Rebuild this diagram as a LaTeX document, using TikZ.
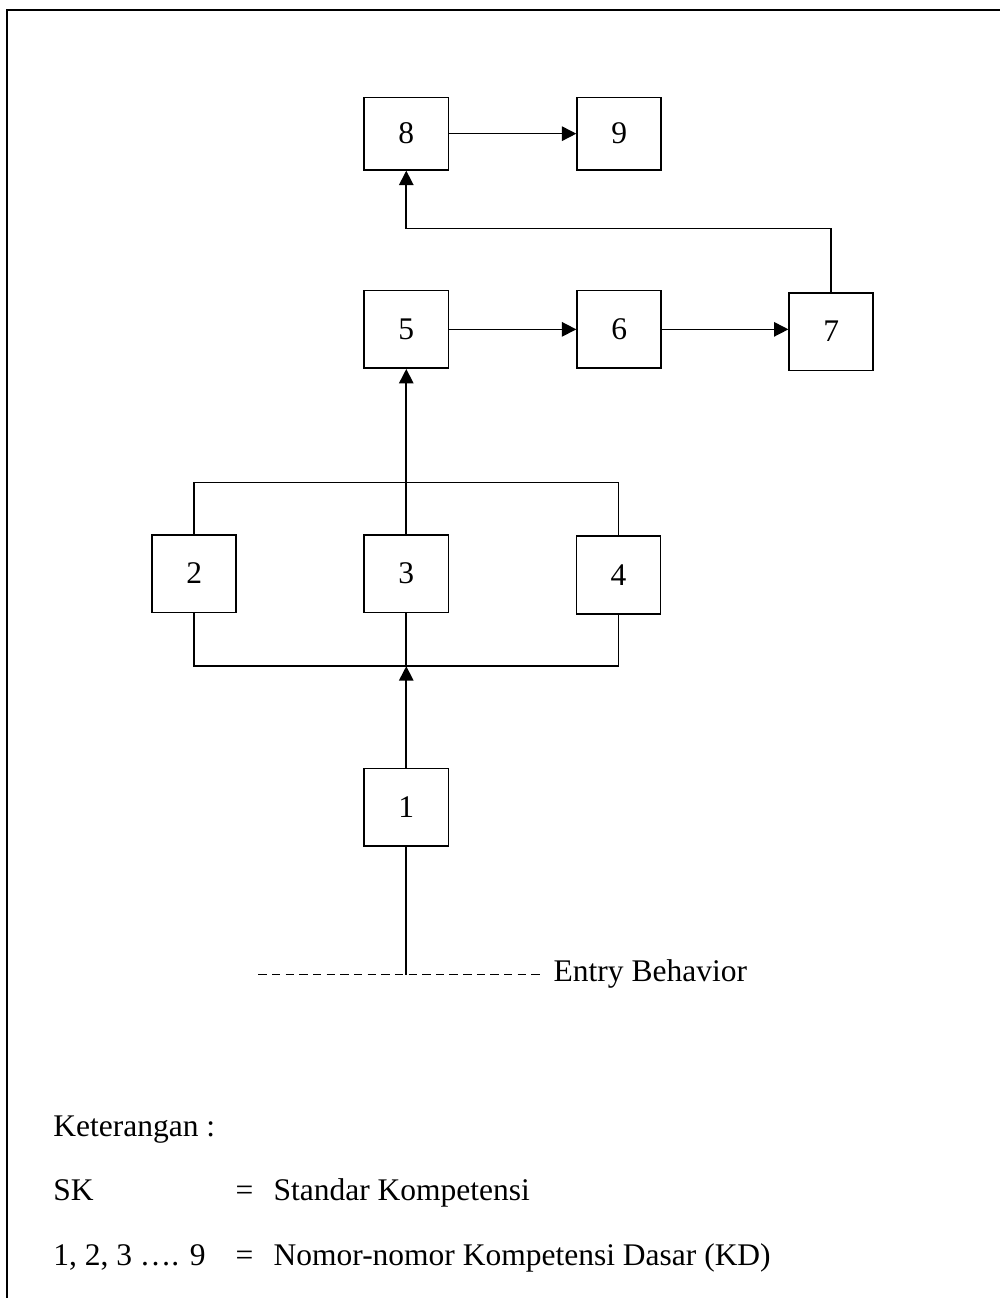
\documentclass[tikz,border=0pt]{standalone}
\usepackage{fontspec}
\setmainfont{Liberation Serif}
\usepackage{tikz}
\usetikzlibrary{calc}
\usetikzlibrary{arrows.meta}
\tikzstyle{kdbox} = [rectangle, 
minimum width=1.125cm, 
minimum height=1.04cm, 
inner sep=0pt, 
text centered, 
draw=black, 
line width=0.6pt, 
fill=white]
\tikzstyle{arrow} = [line width=0.6pt,-{Triangle[length=5.5pt,width=5.5pt]}]
\tikzstyle{link} = [line width=0.6pt]
\tikzstyle{dashedline} = [line width=0.5pt, dash pattern=on 3.2pt off 2pt]
\tikzstyle{legend} = [anchor=base west]

\begin{document}
\begin{tikzpicture}[font=\fontsize{12}{14}\selectfont]
    \useasboundingbox (-5.44,-12.97) rectangle (7.95,4.41);

    % Frame
    \draw [line width=0.8pt] (-5.35,-12.97) -- (-5.35,4.28) -- (7.95,4.28);

    \node (k8) [kdbox, minimum height=0.97cm, yshift=2.62cm] {8};
    \node (k9) [kdbox, minimum height=0.97cm, xshift=2.85cm, yshift=2.62cm] {9};

    \node (k5) [kdbox] {5};
    \node (k6) [kdbox, xshift=2.85cm] {6};
    \node (k7) [kdbox, xshift=5.69cm, yshift=-0.03cm] {7};

    \node (k2) [kdbox, xshift=-2.84cm, yshift=-3.27cm] {2};
    \node (k3) [kdbox, yshift=-3.27cm] {3};
    \node (k4) [kdbox, xshift=2.84cm, yshift=-3.29cm] {4};

    \node (k1) [kdbox, yshift=-6.40cm] {1};

    % Top row arcs
    \draw [arrow] (k8) -- (k9);
    \draw [arrow] (k5) -- (k6);
    \draw [arrow] (k6.east) -- (k6.east -| k7.west);
    \draw [arrow] (k7.north) -- ++(0,0.85) -| (k8.south);

    % Bars above and below 2, 3, 4
    \coordinate (busTop) at ($(k3.north)+(0,0.69)$);
    \coordinate (busBot) at ($(k3.south)+(0,-0.71)$);
    \draw [link] (k2.north) |- (busTop) -| (k4.north);
    \draw [link] (k3.north) -- (busTop);
    \draw [arrow] (busTop) -- (k5.south);
    \draw [link] (k2.south) |- (busBot) -| (k4.south);
    \draw [link] (k3.south) -- (busBot);
    \draw [arrow] (k1.north) -- (busBot);

    % Entry behavior line
    \coordinate (ebL) at (-1.98,-8.64);
    \node (eb) [legend, xshift=1.85cm, yshift=-8.73cm] {Entry Behavior};
    \draw [dashedline] (ebL) -- ([xshift=-0.6mm]ebL -| eb.west);
    \draw [link] (k1.south) -- (k1.south |- ebL);

    % Legend
    \node (ket) [legend, xshift=-4.85cm, yshift=-10.81cm] {Keterangan :};
    \node (sk) [legend, xshift=-4.85cm, yshift=-11.66cm] {SK};
    \node (eq1) [legend, xshift=-2.41cm, yshift=-11.66cm] {=};
    \node (skdesc) [legend, xshift=-1.90cm, yshift=-11.66cm] {Standar Kompetensi};
    \node (nums) [legend, xshift=-4.85cm, yshift=-12.53cm] {1, 2, 3 …. 9};
    \node (eq2) [legend, xshift=-2.41cm, yshift=-12.53cm] {=};
    \node (kddesc) [legend, xshift=-1.90cm, yshift=-12.53cm] {Nomor-nomor Kompetensi Dasar (KD)};
  \end{tikzpicture}
\end{document}
